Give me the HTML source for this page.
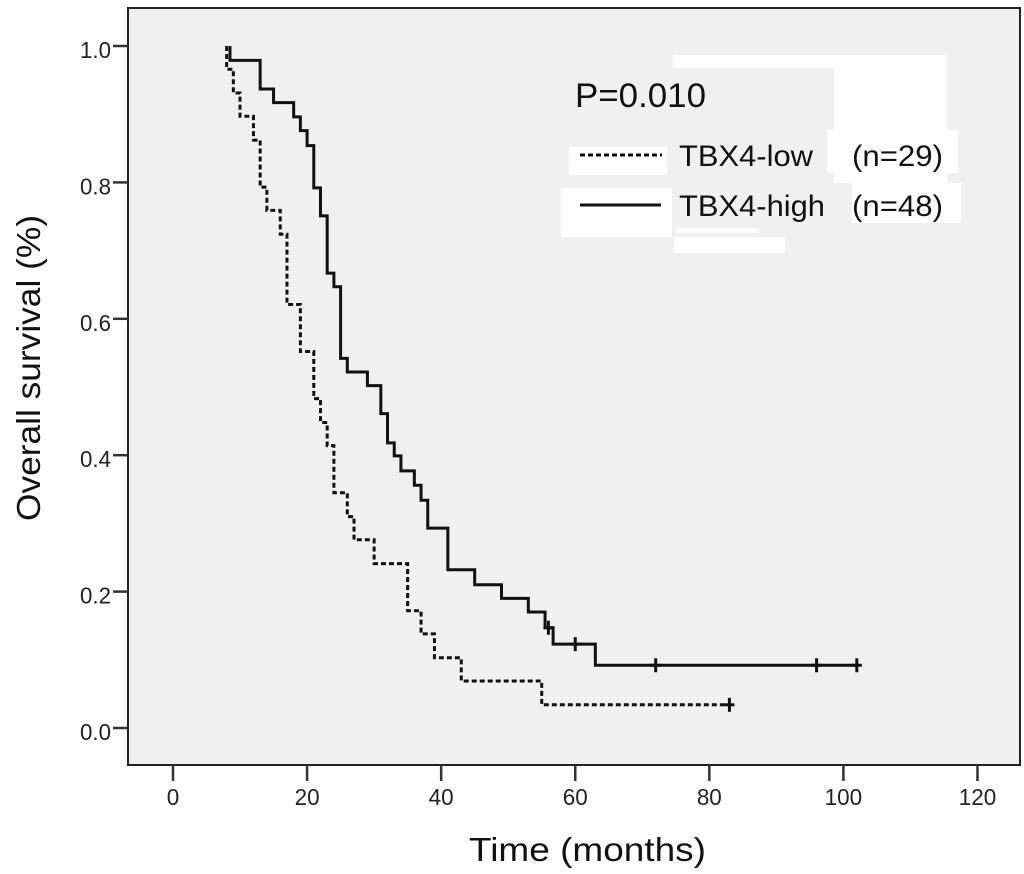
<!DOCTYPE html>
<html><head><meta charset="utf-8"><style>
body{margin:0;background:#fff;}
svg{display:block;font-family:"Liberation Sans",Arial,sans-serif;}
</style></head><body>
<svg id="chart" width="1024" height="874" viewBox="0 0 1024 874" xmlns="http://www.w3.org/2000/svg">
<rect x="0" y="0" width="1024" height="874" fill="#fff"/>
<rect x="128" y="8" width="892" height="757" fill="#f0f0f0" stroke="#222" stroke-width="2"/>
<g id="legend-patches" fill="#fff">
<rect x="673" y="55" width="274" height="13"/><rect x="834" y="67" width="113" height="116"/>
<rect x="827" y="130" width="131" height="43"/><rect x="852" y="183" width="109" height="40"/>
<rect x="561" y="188" width="111" height="49"/><rect x="569" y="147" width="98" height="28"/>
<rect x="674" y="237" width="111" height="16"/><rect x="677" y="228" width="81" height="5"/>
</g>
<g id="axes"></g>
<g id="series"></g>
<text x="575" y="107" font-size="34" textLength="131" lengthAdjust="spacingAndGlyphs" fill="#111">P=0.010</text>
<line x1="580" y1="155" x2="662" y2="155" stroke="#111" stroke-width="3" stroke-dasharray="5,3"/>
<text x="679" y="166" font-size="30" textLength="134" lengthAdjust="spacingAndGlyphs" fill="#111">TBX4-low</text>
<text x="852" y="166" font-size="30" textLength="91" lengthAdjust="spacingAndGlyphs" fill="#111">(n=29)</text>
<line x1="580" y1="205" x2="661" y2="205" stroke="#111" stroke-width="3"/>
<text x="679" y="216" font-size="30" textLength="146" lengthAdjust="spacingAndGlyphs" fill="#111">TBX4-high</text>
<text x="852" y="216" font-size="30" textLength="91" lengthAdjust="spacingAndGlyphs" fill="#111">(n=48)</text>
<text x="469" y="861" font-size="33" textLength="237" lengthAdjust="spacingAndGlyphs" fill="#111">Time  (months)</text>
<text transform="translate(40,521) rotate(-90)" font-size="33" textLength="306" lengthAdjust="spacingAndGlyphs" fill="#111">Overall survival (%)</text>
</svg>
<script>
const xTicks = [0, 20, 40, 60, 80, 100, 120];
const yTicks = [0.0, 0.2, 0.4, 0.6, 0.8, 1.0];
const highTimes = [8.5, 13, 15, 18, 19, 20, 21, 22, 23, 24, 25, 26, 29, 31, 32, 33, 34, 36, 37, 38, 41, 45, 49, 53, 55.5, 56.7, 63];
const highSurv = [0.979, 0.937, 0.917, 0.896, 0.876, 0.854, 0.792, 0.751, 0.667, 0.647, 0.542, 0.522, 0.502, 0.461, 0.418, 0.399, 0.377, 0.356, 0.334, 0.293, 0.232, 0.210, 0.190, 0.170, 0.147, 0.123, 0.092];
const highEnd = 102;
const highCensor = [56, 60, 72, 96, 102];
const lowTimes = [8, 9, 10, 12, 13, 14, 16, 17, 19, 21, 22, 23, 24, 26, 27, 30, 35, 37, 39, 43, 55];
const lowSurv = [0.966, 0.931, 0.897, 0.862, 0.793, 0.759, 0.724, 0.621, 0.552, 0.483, 0.448, 0.414, 0.345, 0.310, 0.276, 0.241, 0.172, 0.138, 0.103, 0.069, 0.034];
const lowEnd = 83;
const lowCensor = [83];

const NS = "http://www.w3.org/2000/svg";
const X = t => 173 + t * 6.704;
const Y = s => 728 - s * 682;
function mk(tag, attrs, parent){const e=document.createElementNS(NS,tag);for(const k in attrs)e.setAttribute(k,attrs[k]);parent.appendChild(e);return e;}
const axes = document.getElementById('axes');
xTicks.forEach(v=>{
  const l=mk('line',{x1:X(v),x2:X(v),y1:765,y2:781,stroke:'#333','stroke-width':2.5},axes);
  
  
  const t=mk('text',{x:X(v),y:805,'font-size':23,'text-anchor':'middle',fill:'#222',textLength:String(v).length*12.5,lengthAdjust:'spacingAndGlyphs'},axes);
  t.textContent=v;
  
  
});
yTicks.forEach(v=>{
  const l=mk('line',{x1:113,x2:128,y1:Y(v),y2:Y(v),stroke:'#333','stroke-width':2.5},axes);
  
  
  const t=mk('text',{x:111,y:Y(v)+12,'font-size':23,'text-anchor':'end',fill:'#222',textLength:31,lengthAdjust:'spacingAndGlyphs'},axes);
  t.textContent=v.toFixed(1);
  
  
});
function stepPath(times, surv, end){
  let d=`M${X(times[0])},${Y(1)}`;
  let prev=1;
  times.forEach((t,i)=>{d+=` L${X(t)},${Y(prev)} L${X(t)},${Y(surv[i])}`;prev=surv[i];});
  d+=` L${X(end)},${Y(prev)}`;
  return d;
}
function survAt(times, surv, t){let s=1;times.forEach((tt,i)=>{if(tt<=t)s=surv[i];});return s;}
const series=document.getElementById('series');
const pl=mk('path',{d:stepPath(lowTimes,lowSurv,lowEnd),fill:'none',stroke:'#111','stroke-width':3,'stroke-dasharray':'5,3'},series);


const ph=mk('path',{d:stepPath(highTimes,highSurv,highEnd),fill:'none',stroke:'#111','stroke-width':3},series);


function censor(t,s,name){
  const g=mk('g',{},series);
  
  
  mk('line',{x1:X(t),x2:X(t),y1:Y(s)-7,y2:Y(s)+7,stroke:'#111','stroke-width':3},g);
  mk('line',{x1:X(t)-5,x2:X(t)+5,y1:Y(s),y2:Y(s),stroke:'#111','stroke-width':3},g);
}
highCensor.forEach(t=>censor(t,survAt(highTimes,highSurv,t),'censor-mark-high'));
lowCensor.forEach(t=>censor(t,survAt(lowTimes,lowSurv,t),'censor-mark-low'));
</script>
</body></html>
